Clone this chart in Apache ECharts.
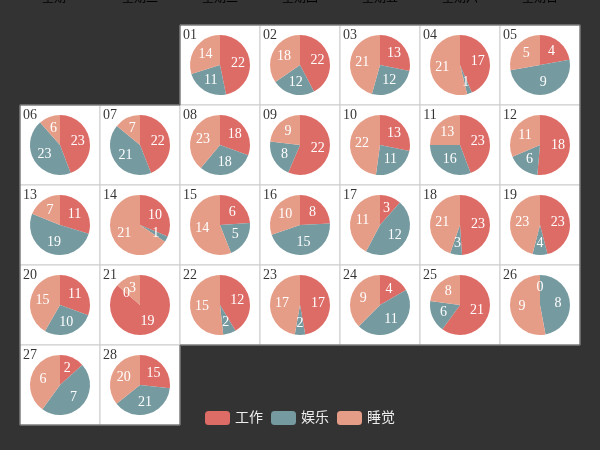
<!DOCTYPE html>
<html>
<head>
<meta charset="utf-8">
<script src="https://cdn.jsdelivr.net/npm/echarts@6/dist/echarts.min.js"></script>
<style>html,body{margin:0;padding:0;background:#333;}#main{width:600px;height:450px;}</style>
</head>
<body>
<div id="main"></div>
<script>
const dates = ['2017-02-01','2017-02-02','2017-02-03','2017-02-04','2017-02-05','2017-02-06','2017-02-07','2017-02-08','2017-02-09','2017-02-10','2017-02-11','2017-02-12','2017-02-13','2017-02-14','2017-02-15','2017-02-16','2017-02-17','2017-02-18','2017-02-19','2017-02-20','2017-02-21','2017-02-22','2017-02-23','2017-02-24','2017-02-25','2017-02-26','2017-02-27','2017-02-28'];
const categories = ['工作', '娱乐', '睡觉'];
const work  = [22,22,13,17,4,23,22,18,22,13,23,18,11,10,6,8,3,23,23,11,19,12,17,4,21,0,2,15];
const fun   = [11,12,12,1,9,23,21,18,8,11,16,6,19,1,5,15,12,3,4,10,0,2,2,11,6,8,7,21];
const sleep = [14,18,21,21,5,6,7,23,9,22,13,11,7,21,14,10,11,21,23,15,3,15,17,9,8,9,6,20];
const dayNames = ['星期日', '星期一', '星期二', '星期三', '星期四', '星期五', '星期六'];

const cellSize = [80, 80];
const font = 'Liberation Serif, "Noto Sans CJK SC", serif';
const chart = echarts.init(document.getElementById('main'));
const pieSeries = dates.map(function (d, i) {
  return {
    type: 'pie',
    id: 'pie-' + i,
    center: d,
    radius: 30,
    coordinateSystem: 'calendar',
    label: { formatter: '{c}', position: 'inside', fontSize: 14, color: '#fff', fontFamily: font },
    labelLayout: { hideOverlap: false },
    data: [
      { name: categories[0], value: work[i] },
      { name: categories[1], value: fun[i] },
      { name: categories[2], value: sleep[i] }
    ]
  };
});
chart.setOption({
  backgroundColor: '#333',
  color: ['#dd6b66', '#759aa0', '#e69d87'],
  textStyle: { fontFamily: font },
  animation: false,
  legend: {
    data: categories,
    bottom: 20,
    itemWidth: 25,
    itemHeight: 14,
    textStyle: { color: '#eee', fontSize: 14, fontFamily: font }
  },
  calendar: {
    top: 'middle',
    left: 'center',
    orient: 'vertical',
    cellSize: cellSize,
    yearLabel: { show: false },
    dayLabel: { margin: 20, firstDay: 1, nameMap: dayNames, color: '#000', fontFamily: font },
    monthLabel: { show: false },
    itemStyle: { color: '#fff', borderColor: '#ccc', borderWidth: 1 },
    splitLine: { lineStyle: { color: '#555', width: 1 } },
    range: ['2017-02']
  },
  series: [
    {
      id: 'label',
      type: 'scatter',
      coordinateSystem: 'calendar',
      symbolSize: 0,
      label: {
        show: true,
        formatter: function (p) { return p.value[0].slice(8); },
        offset: [-cellSize[0] / 2 + 10, -cellSize[1] / 2 + 10],
        fontSize: 14,
        color: '#000',
        fontFamily: font
      },
      data: dates.map(function (d) { return [d, 0]; })
    }
  ].concat(pieSeries)
});
</script>
</body>
</html>
